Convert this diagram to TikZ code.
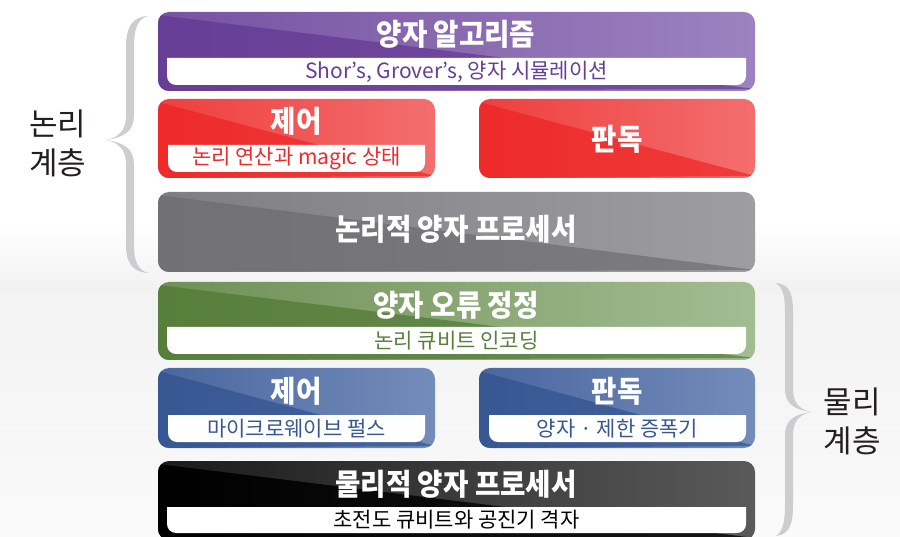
\documentclass[tikz,border=0pt]{standalone}
\usepackage{fontspec}
\setmainfont{Noto Sans CJK KR}
\usetikzlibrary{calc}
\definecolor{pudk}{HTML}{673E96}
\definecolor{pult}{HTML}{9C82BF}
\definecolor{rddk}{HTML}{EE2A2A}
\definecolor{rdlt}{HTML}{F36E6E}
\definecolor{grdk}{HTML}{717074}
\definecolor{grlt}{HTML}{9E9DA1}
\definecolor{gndk}{HTML}{587E3C}
\definecolor{gnlt}{HTML}{A3BC92}
\definecolor{bldk}{HTML}{375793}
\definecolor{bllt}{HTML}{748CBA}
\definecolor{bkdk}{HTML}{000000}
\definecolor{bklt}{HTML}{5A5A5A}
\definecolor{bracec}{HTML}{CDCDCF}
\definecolor{labc}{HTML}{231F20}
\newcommand\condensed[1]{\scalebox{0.92}[1]{#1}}
\tikzset{
  titletext/.style={text=white, font=\fontsize{30}{30}\selectfont\bfseries, inner sep=0pt, anchor=center},
  subtext/.style={font=\fontsize{21}{21}\selectfont, inner sep=0pt, anchor=center},
  sidetext/.style={text=labc, font=\fontsize{31}{31}\selectfont, inner sep=0pt, anchor=center},
  bracefill/.style={fill=bracec}
}
% #1 name, #2 x0, #3 y0, #4 x1, #5 y1, #6 dark, #7 light
\newcommand\layerbox[7]{%
  \coordinate (#1-nw) at (#2,#3);
  \coordinate (#1-se) at (#4,#5);
  \begin{scope}
    \clip[rounded corners=11pt] (#2,#3) rectangle (#4,#5);
    \shade[left color=#6!70!#7, right color=#7] (#2,#3) rectangle (#4,#5);
    \shade[left color=#6, right color=#6!75!#7] (#2,#3+3) -- (#4,#5-2) -- (#2,#5) -- cycle;
  \end{scope}}
% white bar: #1 name, #2 x0, #3 y0, #4 x1, #5 y1
\newcommand\whitebar[5]{%
  \fill[white] (#2,#3) -- (#4,#3) [rounded corners=9pt] -- (#4,#5) -- (#2,#5) [sharp corners] -- (#2,#3) -- cycle;
  \coordinate (#1) at ({(#2+#4)/2},{(#3+#5)/2});}
\begin{document}
\begin{tikzpicture}[x=1pt,y=-1pt]
\useasboundingbox (0,0) rectangle (900,537);
\fill[white] (0,0) rectangle (900,537);
% faint background shading
\shade[top color=white, bottom color=black!5] (0,225) rectangle (900,285);
\shade[top color=black!5, bottom color=black!2] (0,285) rectangle (900,537);

% boxes
\layerbox{algo}{158}{12}{755}{91}{pudk}{pult}
\whitebar{algobar}{167}{58}{746}{85}
\layerbox{lctrl}{158}{99}{435}{178}{rddk}{rdlt}
\whitebar{lctrlbar}{168}{145}{425}{172}
\layerbox{lread}{479}{99}{755}{178}{rddk}{rdlt}
\layerbox{lproc}{158}{192}{755}{272}{grdk}{grlt}
\layerbox{qec}{158}{282}{755}{360}{gndk}{gnlt}
\whitebar{qecbar}{167}{327}{746}{354}
\layerbox{pctrl}{158}{368}{435}{448}{bldk}{bllt}
\whitebar{pctrlbar}{168}{415}{425}{442}
\layerbox{pread}{479}{368}{755}{448}{bldk}{bllt}
\whitebar{preadbar}{489}{415}{746}{442}
\layerbox{pproc}{158}{461}{755}{540}{bkdk}{bklt}
\whitebar{pprocbar}{167}{507}{746}{533}

% texts
\node[titletext] (t1) at (456,34) {\condensed{양자 알고리즘}};
\node[subtext, text=pudk] (s1) at (algobar) {Shor’s, Grover’s, 양자 시뮬레이션};
\node[titletext] (t2) at (296,121) {\condensed{제어}};
\node[subtext, text=rddk] (s2) at (lctrlbar) {논리 연산과 magic 상태};
\node[titletext] (t3) at (617,139) {\condensed{판독}};
\node[titletext] (t4) at (456,229) {\condensed{논리적 양자 프로세서}};
\node[titletext] (t5) at (456,305) {\condensed{양자 오류 정정}};
\node[subtext, text=gndk] (s5) at (qecbar) {논리 큐비트 인코딩};
\node[titletext] (t6) at (296,391) {\condensed{제어}};
\node[subtext, text=bldk] (s6) at (pctrlbar) {마이크로웨이브 펄스};
\node[titletext] (t7) at (617,391) {\condensed{판독}};
\node[subtext, text=bldk] (s7) at (preadbar) {양자 · 제한 증폭기};
\node[titletext] (t8) at (456,484) {\condensed{물리적 양자 프로세서}};
\node[subtext, text=black] (s8) at (pprocbar) {초전도 큐비트와 공진기 격자};

% left brace
\fill[bracefill] (148,16) .. controls (132,17) and (126,27) .. (126,48) -- (126,115)
  .. controls (126,130) and (120,137) .. (106,140)
  .. controls (120,143) and (126,150) .. (126,165) -- (126,245)
  .. controls (126,262) and (132,272) .. (148,273)
  .. controls (138,270) and (134,262) .. (134,245) -- (134,165)
  .. controls (134,150) and (126,143) .. (106,140)
  .. controls (126,137) and (134,130) .. (134,115) -- (134,48)
  .. controls (134,27) and (138,19) .. (148,16) -- cycle;
% right brace
\fill[bracefill] (776,283) .. controls (790,284) and (793,294) .. (793,312) -- (793,388)
  .. controls (793,402) and (798,409) .. (811,412)
  .. controls (798,415) and (793,422) .. (793,436) -- (793,505)
  .. controls (793,524) and (790,534) .. (776,536)
  .. controls (782,532) and (785,524) .. (785,505) -- (785,436)
  .. controls (785,421) and (792,415) .. (811,412)
  .. controls (792,409) and (785,403) .. (785,388) -- (785,312)
  .. controls (785,294) and (782,287) .. (776,283) -- cycle;

\node[sidetext] (ll1) at (58,124) {논리};
\node[sidetext] (ll2) at (58,163) {계층};
\node[sidetext] (pl1) at (852,402) {물리};
\node[sidetext] (pl2) at (852,441) {계층};
\end{tikzpicture}
\end{document}
